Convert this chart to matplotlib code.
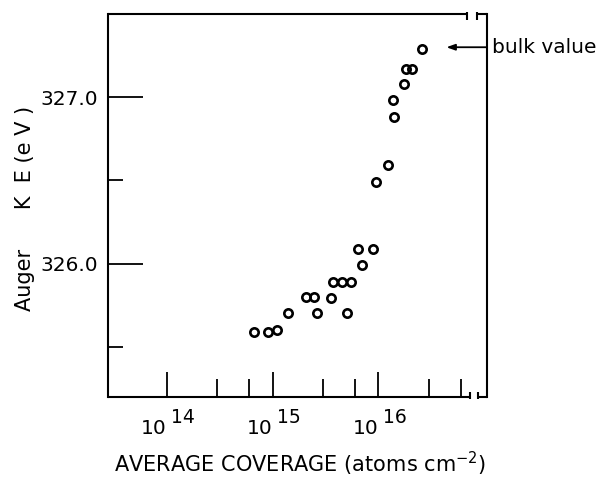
import matplotlib.pyplot as plt
import matplotlib.transforms as mtransforms
from matplotlib.ticker import FixedLocator, NullFormatter

# coverage in atoms cm^-2, Auger kinetic energy in eV
coverage = [6.73e14, 9.06e14, 1.10e15, 1.40e15, 2.07e15, 2.48e15, 2.64e15,
            3.57e15, 3.73e15, 4.54e15, 5.52e15, 5.09e15, 6.47e15, 7.06e15,
            8.85e15, 9.57e15, 1.245e16, 1.416e16, 1.368e16, 1.762e16,
            1.828e16, 2.07e16, 2.57e16]
auger_ke = [325.59, 325.59, 325.60, 325.70, 325.80, 325.80, 325.70,
            325.79, 325.89, 325.89, 325.89, 325.70, 326.09, 325.99,
            326.09, 326.49, 326.59, 326.88, 326.98, 327.08,
            327.17, 327.17, 327.29]

bulk_value = 327.30
bulk_arrow_tip = 4.4e16

x_major_exponents = [14, 15, 16]
x_minor_ticks = [3e14, 6e14, 3e15, 6e15, 3e16, 6e16]
y_major_ticks = [326.0, 327.0]
y_minor_ticks = [325.5, 326.5]
y_tick_labels = ["326.0", "327.0"]

plt.rcParams['font.family'] = 'DejaVu Sans'

fig = plt.figure(figsize=(6.03, 4.78), dpi=100)
ax = fig.add_axes([0.1791, 0.1695, 0.6285, 0.8013])

ax.plot(coverage, auger_ke, 'o', mfc='none', mec='black', ms=6, mew=1.9)

ax.set_xscale('log')
ax.set_xlim(10 ** 13.445, 10 ** 17.027)
ax.set_ylim(325.198, 327.5)

# ticks
ax.xaxis.set_major_locator(FixedLocator([10.0 ** e for e in x_major_exponents]))
ax.xaxis.set_minor_locator(FixedLocator(x_minor_ticks))
ax.xaxis.set_major_formatter(NullFormatter())
ax.xaxis.set_minor_formatter(NullFormatter())
ax.yaxis.set_major_locator(FixedLocator(y_major_ticks))
ax.yaxis.set_minor_locator(FixedLocator(y_minor_ticks))
ax.set_yticklabels(y_tick_labels)

ax.tick_params(axis='x', which='major', direction='in', length=18, width=1.3)
ax.tick_params(axis='x', which='minor', direction='in', length=13, width=1.3)
ax.tick_params(axis='y', which='major', direction='in', length=25, width=1.3,
               labelsize=14.5, pad=7)
ax.tick_params(axis='y', which='minor', direction='in', length=11, width=1.3)
ax.tick_params(top=False, right=False, which='both')

# broken frame: top and bottom spines drawn by hand
ax.spines['top'].set_visible(False)
ax.spines['bottom'].set_visible(False)
for side in ['left', 'right']:
    ax.spines[side].set_linewidth(1.5)

frame = dict(transform=ax.transAxes, color='black', lw=1.5, clip_on=False,
             solid_capstyle='butt')
ax.plot([0, 0.947], [1, 1], **frame)
ax.plot([0.974, 1], [1, 1], **frame)
ax.plot([0.947, 0.947], [1.004, 0.985], **frame)
ax.plot([0.974, 0.974], [1.004, 0.985], **frame)
ax.plot([0, 0.955], [0, 0], **frame)
ax.plot([0.976, 1], [0, 0], **frame)
ax.plot([0.955, 0.955], [-0.004, 0.014], **frame)
ax.plot([0.976, 0.976], [-0.004, 0.014], **frame)

# x tick labels as 10 with a raised exponent
xblend = mtransforms.blended_transform_factory(ax.transData, ax.transAxes)
for e in x_major_exponents:
    ax.text(10.0 ** e, -0.058, "10", transform=xblend, ha='right', va='top',
            fontsize=14.5)
    ax.text(10.0 ** (e + 0.045), -0.028, str(e), transform=xblend, ha='left',
            va='top', fontsize=13.5)

# bulk value marker
yblend = mtransforms.blended_transform_factory(ax.transAxes, ax.transData)
ax.annotate("", xy=(bulk_arrow_tip, bulk_value), xytext=(1.0, bulk_value),
            textcoords=yblend,
            arrowprops=dict(arrowstyle='-|>,head_length=0.5,head_width=0.18',
                            color='black', lw=1.3, shrinkA=0, shrinkB=0))
ax.text(1.012, bulk_value, "bulk value", transform=yblend, ha='left',
        va='center', fontsize=14.5)

ax.text(-0.219, 0.492, "Auger      K  E (e V )", transform=ax.transAxes,
        rotation=90, ha='center', va='center', fontsize=15)
ax.text(0.507, -0.197, "AVERAGE COVERAGE (atoms cm$^{-2}$)",
        transform=ax.transAxes, ha='center', va='baseline', fontsize=15)

fig.savefig("out.png", dpi=100)
